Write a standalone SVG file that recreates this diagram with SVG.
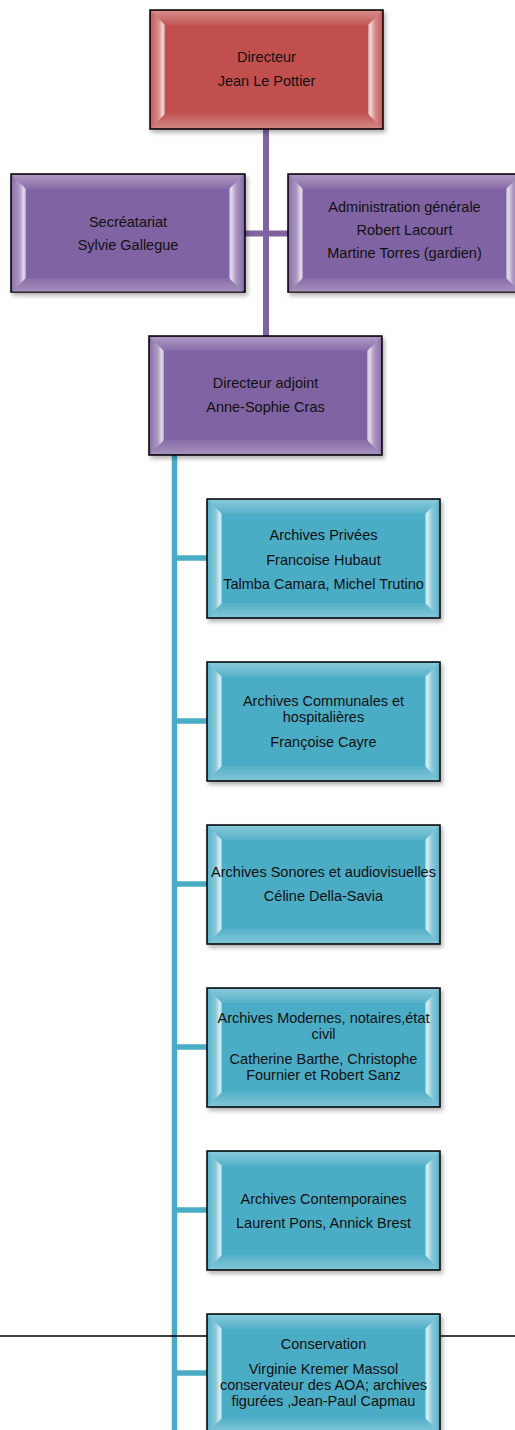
<svg xmlns="http://www.w3.org/2000/svg" xmlns:xlink="http://www.w3.org/1999/xlink" width="515" height="1430" viewBox="0 0 515 1430">
<style>
.box{stroke:#000;stroke-width:1.5;filter:url(#sh)}
.red{fill:#C0504D}
.pur{fill:#8064A2}
.teal{fill:#4BACC6}
text{font-family:"Liberation Sans",Arial,sans-serif;font-size:14.5px;fill:#111;text-anchor:middle}
.cp{stroke:#8064A2;stroke-width:6;fill:none}
.ct{stroke:#4BACC6;stroke-width:5.5;fill:none}
</style>
<defs>
<filter id="sh" x="-10%" y="-10%" width="125%" height="130%">
<feDropShadow dx="2" dy="3" stdDeviation="2" flood-color="#000" flood-opacity="0.3"/>
</filter>
<linearGradient id="gl" x1="0" y1="0" x2="1" y2="0">
<stop offset="0" stop-color="#fff" stop-opacity="0.1"/>
<stop offset="0.55" stop-color="#fff" stop-opacity="0.35"/>
<stop offset="0.85" stop-color="#fff" stop-opacity="0.8"/>
<stop offset="1" stop-color="#fff" stop-opacity="0.35"/>
</linearGradient>
<linearGradient id="gr" x1="0" y1="0" x2="1" y2="0">
<stop offset="0" stop-color="#fff" stop-opacity="0.35"/>
<stop offset="0.15" stop-color="#fff" stop-opacity="0.8"/>
<stop offset="0.5" stop-color="#fff" stop-opacity="0.35"/>
<stop offset="1" stop-color="#fff" stop-opacity="0.1"/>
</linearGradient>
<linearGradient id="gt" x1="0" y1="0" x2="0" y2="1">
<stop offset="0" stop-color="#fff" stop-opacity="0.35"/>
<stop offset="1" stop-color="#fff" stop-opacity="0.05"/>
</linearGradient>
<linearGradient id="gb" x1="0" y1="0" x2="0" y2="1">
<stop offset="0" stop-color="#fff" stop-opacity="0.05"/>
<stop offset="1" stop-color="#fff" stop-opacity="0.3"/>
</linearGradient>
<g id="bevel">
<path d="M1,1 L232,1 L218,15 L15,15 Z" fill="url(#gt)"/>
<path d="M1,118 L232,118 L218,104 L15,104 Z" fill="url(#gb)"/>
<path d="M1,1 L15,15 L15,104 L1,118 Z" fill="url(#gl)"/>
<path d="M232,1 L218,15 L218,104 L232,118 Z" fill="url(#gr)"/>
</g>
</defs>
<rect width="515" height="1430" fill="#fff"/>

<g id="connectors">
<line class="cp" x1="266" y1="128" x2="266" y2="336"/>
<line class="cp" x1="244" y1="233.5" x2="288" y2="233.5"/>
<line class="ct" x1="174.5" y1="455" x2="174.5" y2="1430"/>
<line class="ct" x1="174" y1="558" x2="208" y2="558"/>
<line class="ct" x1="174" y1="721" x2="208" y2="721"/>
<line class="ct" x1="174" y1="884" x2="208" y2="884"/>
<line class="ct" x1="174" y1="1047" x2="208" y2="1047"/>
<line class="ct" x1="174" y1="1210" x2="208" y2="1210"/>
<line class="ct" x1="174" y1="1373" x2="208" y2="1373"/>
</g>

<line x1="0" y1="1336" x2="515" y2="1336" stroke="#000" stroke-width="1.5"/>

<g id="directeur">
<rect class="box red" x="150" y="10" width="233" height="119"/>
<use xlink:href="#bevel" x="150" y="10"/>
<text x="266.5" y="62">Directeur</text>
<text x="266.5" y="86">Jean Le Pottier</text>
</g>

<g id="secretariat">
<rect class="box pur" x="11" y="174" width="234" height="118"/>
<use xlink:href="#bevel" x="11" y="174"/>
<text x="128" y="227">Secréatariat</text>
<text x="128" y="250">Sylvie Gallegue</text>
</g>

<g id="administration">
<rect class="box pur" x="288" y="174" width="233" height="118"/>
<use xlink:href="#bevel" x="288" y="174"/>
<text x="404.5" y="212">Administration générale</text>
<text x="404.5" y="235">Robert Lacourt</text>
<text x="404.5" y="258">Martine Torres (gardien)</text>
</g>

<g id="adjoint">
<rect class="box pur" x="149" y="336" width="233" height="119"/>
<use xlink:href="#bevel" x="149" y="336"/>
<text x="265.5" y="388">Directeur adjoint</text>
<text x="265.5" y="412">Anne-Sophie Cras</text>
</g>

<g id="privees">
<rect class="box teal" x="207" y="499" width="233" height="119"/>
<use xlink:href="#bevel" x="207" y="499"/>
<text x="323.5" y="540">Archives Privées</text>
<text x="323.5" y="565">Francoise Hubaut</text>
<text x="323.5" y="589">Talmba Camara, Michel Trutino</text>
</g>

<g id="communales">
<rect class="box teal" x="207" y="662" width="233" height="119"/>
<use xlink:href="#bevel" x="207" y="662"/>
<text x="323.5" y="706">Archives Communales et</text>
<text x="323.5" y="722">hospitalières</text>
<text x="323.5" y="747">Françoise Cayre</text>
</g>

<g id="sonores">
<rect class="box teal" x="207" y="825" width="233" height="119"/>
<use xlink:href="#bevel" x="207" y="825"/>
<text x="323.5" y="877">Archives Sonores et audiovisuelles</text>
<text x="323.5" y="901">Céline Della-Savia</text>
</g>

<g id="modernes">
<rect class="box teal" x="207" y="988" width="233" height="119"/>
<use xlink:href="#bevel" x="207" y="988"/>
<text x="323.5" y="1023">Archives Modernes, notaires,état</text>
<text x="323.5" y="1039">civil</text>
<text x="323.5" y="1064">Catherine Barthe, Christophe</text>
<text x="323.5" y="1080">Fournier et Robert Sanz</text>
</g>

<g id="contemporaines">
<rect class="box teal" x="207" y="1151" width="233" height="119"/>
<use xlink:href="#bevel" x="207" y="1151"/>
<text x="323.5" y="1204">Archives Contemporaines</text>
<text x="323.5" y="1228">Laurent Pons, Annick Brest</text>
</g>

<g id="conservation">
<rect class="box teal" x="207" y="1314" width="233" height="119"/>
<use xlink:href="#bevel" x="207" y="1314"/>
<text x="323.5" y="1349">Conservation</text>
<text x="323.5" y="1374">Virginie Kremer Massol</text>
<text x="323.5" y="1390">conservateur des AOA; archives</text>
<text x="323.5" y="1406">figurées ,Jean-Paul Capmau</text>
</g>
</svg>
